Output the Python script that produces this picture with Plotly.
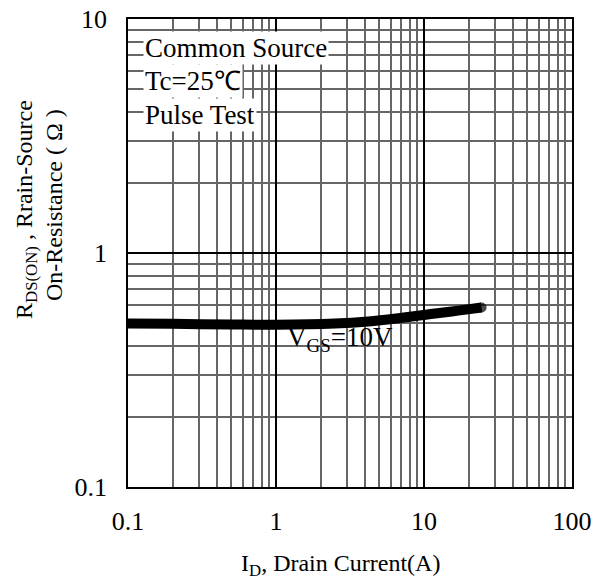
import plotly.graph_objects as go

# Data
drain_current = [0.093, 0.2, 0.5, 1.0, 2.5, 4.2, 6.5, 11.5, 17.0, 24.5]
rds_on = [0.50, 0.498, 0.495, 0.494, 0.50, 0.51, 0.525, 0.55, 0.567, 0.585]

x_tickvals = [0.1, 1, 10, 100]
x_ticktext = ["0.1", "1", "10", "100"]
y_tickvals = [0.1, 1, 10]
y_ticktext = ["0.1", "1", "10"]

FONT = "Liberation Serif, Times New Roman, serif"
W, H = 612, 579
L, R, T, B = 128, 40, 19, 92
pw, ph = W - L - R, H - T - B

# helpers converting screen pixel positions to paper coords
def px_x(x):
    return (x - L) / pw

def px_y(y):
    return 1 - (y - T) / ph

n = len(drain_current)
cap_sizes = [10 if i in (0, n - 1) else 0 for i in range(n)]

fig = go.Figure()
fig.add_trace(go.Scatter(
    x=drain_current, y=rds_on, mode="lines+markers",
    line=dict(color="black", width=10, shape="spline"),
    marker=dict(size=cap_sizes, color="black", line=dict(width=0)),
    cliponaxis=False, showlegend=False, hoverinfo="skip",
))

axis_common = dict(
    type="log", showline=True, linecolor="black", linewidth=1.5, mirror=True,
    showgrid=True, gridcolor="black", gridwidth=1.5,
    ticks="", zeroline=False, automargin=False, ticklabeloverflow="allow",
    tickfont=dict(family=FONT, size=26, color="black"),
    minor=dict(dtick="D1", showgrid=True, gridcolor="#666666", gridwidth=1.5, ticks=""),
)

fig.update_xaxes(range=[-1, 2], tickvals=x_tickvals, ticktext=x_ticktext,
                 ticklabelstandoff=10, **axis_common)
fig.update_yaxes(range=[-1, 1], tickvals=y_tickvals, ticktext=y_ticktext,
                 ticklabelstandoff=14, **axis_common)

ann_font = dict(family=FONT, size=27, color="black")
labels = [("Common Source", 48), ("Tc=25\u2103", 81), ("Pulse Test", 115)]
for txt, yc in labels:
    fig.add_annotation(x=px_x(143), y=px_y(yc), xref="paper", yref="paper",
                       xanchor="left", yanchor="middle", text=txt, showarrow=False,
                       font=ann_font, bgcolor="white", borderpad=1)

# white backing for the V_GS label, drawn between grid and curve
fig.add_shape(type="rect", xref="paper", yref="paper", layer="between",
              x0=px_x(289), x1=px_x(393), y0=px_y(350), y1=px_y(326),
              fillcolor="white", line=dict(width=0))
fig.add_annotation(x=px_x(340), y=px_y(339), xref="paper", yref="paper",
                   xanchor="center", yanchor="middle",
                   text="V<sub>GS</sub>=10V", showarrow=False,
                   font=ann_font, borderpad=0)

title_font = dict(family=FONT, size=24, color="black")
fig.add_annotation(x=px_x(26), y=px_y(210), xref="paper", yref="paper",
                   xanchor="center", yanchor="middle", textangle=-90,
                   text="R<sub>DS(ON)</sub> , Rrain-Source", showarrow=False, font=title_font)
fig.add_annotation(x=px_x(54), y=px_y(205), xref="paper", yref="paper",
                   xanchor="center", yanchor="middle", textangle=-90,
                   text="On-Resistance ( \u03a9 )", showarrow=False, font=title_font)
fig.add_annotation(x=px_x(340), y=px_y(565), xref="paper", yref="paper",
                   xanchor="center", yanchor="middle",
                   text="I<sub>D</sub>, Drain Current(A)", showarrow=False, font=title_font)

fig.update_layout(
    width=W, height=H, margin=dict(l=L, r=R, t=T, b=B, autoexpand=False),
    paper_bgcolor="white", plot_bgcolor="white",
    font=dict(family=FONT, color="black"),
)

fig.write_html("out.html", config={"displayModeBar": False},
               post_script="document.body.style.margin='0';document.body.style.overflow='hidden';")
